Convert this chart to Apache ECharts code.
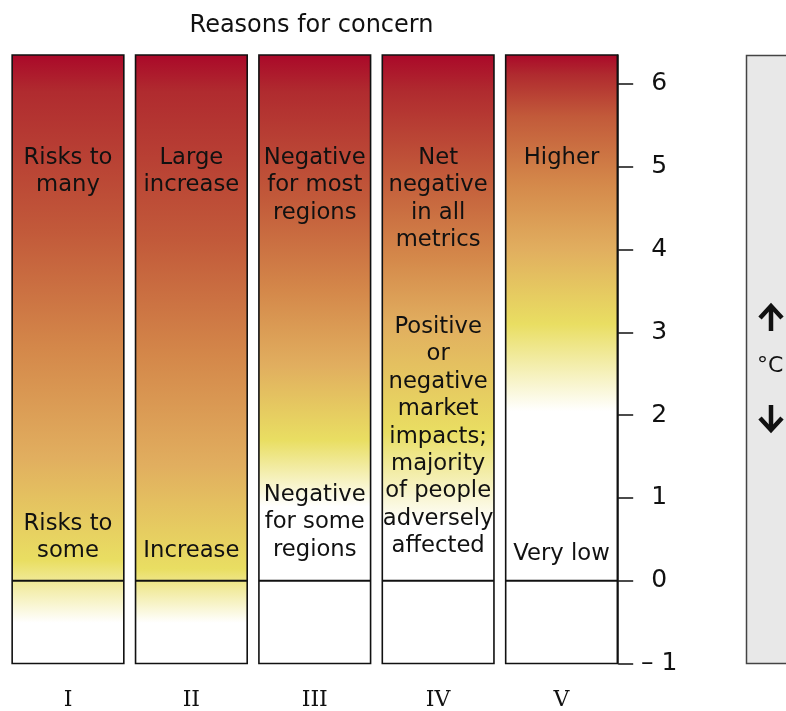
<!DOCTYPE html>
<html><head><meta charset="utf-8">
<script src="https://cdn.jsdelivr.net/npm/echarts@6/dist/echarts.min.js"></script>
<style>html,body{margin:0;padding:0;background:#fff}#c{width:786px;height:711px}</style>
</head><body><div id="c"></div>
<script>
// ---- data ----
const categories = ['I', 'II', 'III', 'IV', 'V'];
// Temperature (°C) at which each risk colour level is reached, per reason for concern
const whiteBelow    = [-0.5, -0.5, 0.9, 0.7, 2.05];
const yellowAt      = [0.25, 0.15, 1.7, 1.8, 3.1];
const lightOrangeAt = [1.5, 1.4, 2.6, 3.1, 4.0];
const orangeAt      = [2.8, 2.7, 3.5, 3.9, 4.8];
const redOrangeAt   = [4.2, 4.1, 4.6, 4.9, 5.6];
const redAt         = [5.9, 5.9, 5.9, 5.9, 6.1];
const darkRedAt     = [6.35, 6.35, 6.35, 6.35, 6.35];
const yTicks = [-1, 0, 1, 2, 3, 4, 5, 6];
const yMin = -1, yMax = 6.35, baseline = 0;
const upperText = ['Risks to\nmany', 'Large\nincrease', 'Negative\nfor most\nregions', 'Net\nnegative\nin all\nmetrics', 'Higher'];
const upperTextTop = [5.27, 5.27, 5.27, 5.27, 5.27];
const lowerText = ['Risks to\nsome', 'Increase', 'Negative\nfor some\nregions',
  'Positive\nor\nnegative\nmarket\nimpacts;\nmajority\nof people\nadversely\naffected', 'Very low'];
const lowerTextBottom = [0.19, 0.19, 0.21, 0.25, 0.16];

// ---- style ----
const levelColors = ['#ffffff', '#e9de62', '#e1ae5f', '#d4884a', '#c25a3a', '#b02b2f', '#aa0829'];
const ink = '#111';
const sans = '"DejaVu Sans", Verdana, sans-serif';

const seriesData = categories.map((c, i) => [i, whiteBelow[i], yellowAt[i], lightOrangeAt[i], orangeAt[i], redOrangeAt[i], redAt[i], darkRedAt[i]]);

function clamp(v) { return Math.max(0, Math.min(1, v)); }

function renderItem(params, api) {
  const i = api.value(0);
  const band = api.size([1, 0])[0];
  const w = band * 0.905;
  const top = api.coord([i, yMax]);
  const bot = api.coord([i, yMin]);
  const zero = api.coord([i, baseline]);
  const x = top[0] - w / 2;
  const h = bot[1] - top[1];
  const stops = [];
  for (let k = levelColors.length - 1; k >= 0; k--) {
    const t = api.value(k + 1);
    stops.push({ offset: clamp((yMax - t) / (yMax - yMin)), color: levelColors[k] });
  }
  stops.push({ offset: 1, color: '#ffffff' });
  const upY = api.coord([i, upperTextTop[i]])[1];
  const loY = api.coord([i, lowerTextBottom[i]])[1];
  const font = '22.7px ' + sans;
  return {
    type: 'group',
    children: [
      { type: 'rect', shape: { x: x, y: top[1], width: w, height: h },
        style: { fill: new echarts.graphic.LinearGradient(0, 0, 0, 1, stops), stroke: ink, lineWidth: 1.6 } },
      { type: 'line', shape: { x1: x, y1: zero[1], x2: x + w, y2: zero[1] },
        style: { stroke: ink, lineWidth: 2 } },
      { type: 'text', style: { text: upperText[i], x: top[0], y: upY, align: 'center', verticalAlign: 'top',
        font: font, lineHeight: 27.4, fill: ink } },
      { type: 'text', style: { text: lowerText[i], x: top[0], y: loY, align: 'center', verticalAlign: 'bottom',
        font: font, lineHeight: 27.4, fill: ink } }
    ]
  };
}

const chart = echarts.init(document.getElementById('c'), null, { renderer: 'canvas' });
chart.setOption({
  animation: false,
  backgroundColor: '#fff',
  grid: { left: 6.3, right: 162.8, top: 55, bottom: 47.5, containLabel: false, outerBoundsMode: 'none' },
  xAxis: {
    type: 'category', data: categories,
    axisLine: { show: false }, axisTick: { show: false }, splitLine: { show: false },
    axisLabel: { fontFamily: '"DejaVu Serif", serif', fontSize: 22, color: ink, margin: 26 }
  },
  yAxis: {
    type: 'value', min: yMin, max: yMax, position: 'right', offset: -5,
    splitLine: { show: false },
    axisLine: { show: true, lineStyle: { color: ink, width: 1.5 } },
    axisTick: { show: true, length: 15, inside: false, customValues: yTicks, lineStyle: { color: ink, width: 1.5 } },
    axisLabel: {
      customValues: yTicks, margin: 41, align: 'center',
      fontFamily: sans, fontSize: 25, color: ink,
      formatter: v => v < 0 ? '\u2013 ' + Math.abs(v) : String(v)
    }
  },
  series: [{ type: 'custom', renderItem: renderItem, data: seriesData,
    encode: { x: 0, y: 1 }, clip: false }],
  graphic: [
    { type: 'text', x: 311.5, y: 26, style: { text: 'Reasons for concern', align: 'center', verticalAlign: 'middle',
      font: '24px ' + sans, fill: ink } },
    { type: 'rect', shape: { x: 746.5, y: 55.5, width: 60, height: 608 },
      style: { fill: '#e8e8e8', stroke: '#444', lineWidth: 1.5 } },
    { type: 'polyline', shape: { points: [[771, 331], [771, 307]] }, style: { stroke: ink, lineWidth: 4.5, fill: null } },
    { type: 'polyline', shape: { points: [[760, 318], [771, 306], [782, 318]] }, style: { stroke: ink, lineWidth: 4.5, fill: null } },
    { type: 'text', x: 757, y: 366, style: { text: '°C', align: 'left', verticalAlign: 'middle', font: '22px ' + sans, fill: ink } },
    { type: 'polyline', shape: { points: [[771, 405], [771, 429]] }, style: { stroke: ink, lineWidth: 4.5, fill: null } },
    { type: 'polyline', shape: { points: [[760, 418], [771, 430], [782, 418]] }, style: { stroke: ink, lineWidth: 4.5, fill: null } }
  ]
});
</script></body></html>
